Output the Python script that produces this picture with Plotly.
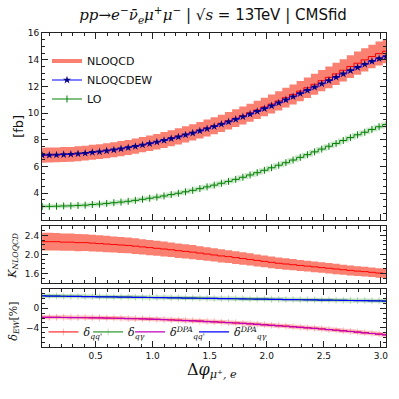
import numpy as np
import plotly.graph_objects as go
from plotly.subplots import make_subplots

# 50 bins in delta phi between mu+ and e, 0 .. pi
bin_edges = np.linspace(0, np.pi, 51)
centers = 0.5 * (bin_edges[1:] + bin_edges[:-1])

# differential cross sections [fb]
nloqcd = [6.85, 6.86, 6.87, 6.90, 6.92, 6.96, 7.00, 7.07, 7.12, 7.19,
          7.26, 7.34, 7.43, 7.53, 7.64, 7.74, 7.86, 7.99, 8.12, 8.26,
          8.41, 8.56, 8.72, 8.89, 9.06, 9.24, 9.43, 9.62, 9.82, 10.03,
          10.24, 10.46, 10.68, 10.91, 11.16, 11.40, 11.65, 11.90, 12.16, 12.43,
          12.68, 12.94, 13.21, 13.49, 13.74, 13.99, 14.24, 14.46, 14.64, 14.78]
# scale uncertainty of NLOQCD [%]
scale_unc = [8.2, 8.2, 8.1, 8.1, 8.0, 8.0, 7.9, 7.9, 7.8, 7.8,
             7.7, 7.7, 7.6, 7.6, 7.5, 7.5, 7.4, 7.4, 7.3, 7.3,
             7.2, 7.2, 7.1, 7.1, 7.0, 7.0, 6.9, 6.9, 6.8, 6.8,
             6.7, 6.7, 6.7, 6.6, 6.6, 6.6, 6.5, 6.5, 6.5, 6.4,
             6.4, 6.4, 6.3, 6.3, 6.3, 6.2, 6.2, 6.2, 6.2, 6.1]
nloqcdew = [6.85, 6.86, 6.87, 6.90, 6.92, 6.96, 7.00, 7.06, 7.11, 7.18,
            7.25, 7.33, 7.42, 7.51, 7.62, 7.72, 7.84, 7.96, 8.09, 8.22,
            8.37, 8.51, 8.67, 8.83, 9.00, 9.17, 9.35, 9.54, 9.73, 9.93,
            10.13, 10.34, 10.55, 10.77, 11.00, 11.23, 11.47, 11.71, 11.95, 12.20,
            12.44, 12.69, 12.94, 13.19, 13.43, 13.66, 13.88, 14.08, 14.24, 14.36]
lo = [3.02, 3.02, 3.03, 3.05, 3.06, 3.09, 3.11, 3.16, 3.19, 3.24,
      3.29, 3.34, 3.40, 3.47, 3.55, 3.63, 3.71, 3.80, 3.90, 4.00,
      4.11, 4.22, 4.35, 4.48, 4.61, 4.75, 4.89, 5.04, 5.20, 5.37,
      5.54, 5.72, 5.91, 6.10, 6.29, 6.49, 6.69, 6.89, 7.10, 7.31,
      7.52, 7.73, 7.95, 8.17, 8.38, 8.57, 8.78, 8.98, 9.15, 9.30]

# K factor NLOQCD / LO
k_nloqcd = [2.27, 2.27, 2.27, 2.26, 2.26, 2.25, 2.25, 2.24, 2.23, 2.22,
            2.21, 2.20, 2.19, 2.175, 2.16, 2.145, 2.13, 2.115, 2.10, 2.08,
            2.065, 2.05, 2.03, 2.01, 1.99, 1.97, 1.955, 1.935, 1.915, 1.895,
            1.875, 1.855, 1.835, 1.815, 1.80, 1.785, 1.77, 1.755, 1.74, 1.725,
            1.71, 1.695, 1.68, 1.665, 1.65, 1.64, 1.625, 1.61, 1.60, 1.59]

# EW corrections [%]
d_qq = [-1.85, -1.85, -1.86, -1.87, -1.88, -1.90, -1.92, -1.94, -1.96, -1.99,
        -2.02, -2.05, -2.09, -2.13, -2.17, -2.22, -2.27, -2.32, -2.38, -2.44,
        -2.50, -2.56, -2.63, -2.70, -2.77, -2.85, -2.93, -3.01, -3.10, -3.19,
        -3.28, -3.38, -3.48, -3.58, -3.68, -3.79, -3.90, -4.02, -4.13, -4.25,
        -4.38, -4.50, -4.63, -4.76, -4.90, -5.04, -5.18, -5.32, -5.47, -5.62]
d_qa = [2.59, 2.57, 2.55, 2.52, 2.50, 2.48, 2.46, 2.44, 2.41, 2.39,
        2.37, 2.35, 2.33, 2.30, 2.28, 2.26, 2.24, 2.22, 2.19, 2.17,
        2.15, 2.13, 2.11, 2.08, 2.06, 2.04, 2.02, 2.00, 1.97, 1.95,
        1.93, 1.91, 1.89, 1.86, 1.84, 1.82, 1.80, 1.78, 1.75, 1.73,
        1.71, 1.69, 1.67, 1.64, 1.62, 1.60, 1.58, 1.55, 1.53, 1.51]
d_qq_dpa = [-1.88, -1.88, -1.89, -1.90, -1.91, -1.93, -1.95, -1.97, -1.99, -2.02,
            -2.05, -2.08, -2.12, -2.16, -2.20, -2.25, -2.30, -2.35, -2.41, -2.47,
            -2.53, -2.59, -2.66, -2.73, -2.80, -2.88, -2.96, -3.04, -3.13, -3.22,
            -3.31, -3.41, -3.51, -3.61, -3.71, -3.82, -3.93, -4.05, -4.16, -4.28,
            -4.41, -4.53, -4.66, -4.79, -4.93, -5.07, -5.21, -5.35, -5.50, -5.65]
d_qa_dpa = [2.56, 2.54, 2.52, 2.50, 2.48, 2.46, 2.44, 2.42, 2.39, 2.37,
            2.35, 2.33, 2.31, 2.28, 2.26, 2.24, 2.22, 2.20, 2.17, 2.15,
            2.13, 2.11, 2.09, 2.06, 2.04, 2.02, 2.00, 1.98, 1.95, 1.93,
            1.91, 1.89, 1.87, 1.84, 1.82, 1.80, 1.78, 1.76, 1.73, 1.71,
            1.69, 1.67, 1.65, 1.62, 1.60, 1.58, 1.56, 1.53, 1.51, 1.49]

nlo = np.array(nloqcd)
unc = np.array(scale_unc) / 100
kf = np.array(k_nloqcd)

salmon = '#fa8072'
serif = 'DejaVu Serif'
sans = 'DejaVu Sans'

fig = make_subplots(rows=3, cols=1, shared_xaxes=True)

# top panel
fig.add_trace(go.Scatter(x=centers, y=nlo * (1 - unc), mode='lines', line_shape='hvh',
                         line=dict(width=0, color=salmon), showlegend=False, hoverinfo='skip'), 1, 1)
fig.add_trace(go.Scatter(x=centers, y=nlo * (1 + unc), mode='lines', line_shape='hvh',
                         line=dict(width=0, color=salmon), fill='tonexty', fillcolor=salmon,
                         showlegend=False), 1, 1)
fig.add_trace(go.Scatter(x=centers, y=nloqcd, mode='lines', line_shape='hvh',
                         line=dict(width=1, color='red'), showlegend=False), 1, 1)
fig.add_trace(go.Scatter(x=[None], y=[None], mode='lines', name='NLOQCD',
                         line=dict(width=4, color=salmon)), 1, 1)
fig.add_trace(go.Scatter(x=centers, y=nloqcdew, mode='lines+markers', line_shape='hvh', name='NLOQCDEW',
                         line=dict(width=1, color='blue'),
                         marker=dict(symbol='star', size=6, color='#000080', line=dict(width=0))), 1, 1)
fig.add_trace(go.Scatter(x=centers, y=lo, mode='lines', line_shape='hvh',
                         line=dict(width=4, color='rgba(0,128,0,0.2)'), showlegend=False), 1, 1)
fig.add_trace(go.Scatter(x=centers, y=lo, mode='lines+markers', line_shape='hvh', name='LO',
                         line=dict(width=1, color='green'),
                         marker=dict(symbol='line-ns', size=5, line=dict(width=1, color='green'))), 1, 1)

# middle panel
fig.add_trace(go.Scatter(x=centers, y=kf * (1 - unc), mode='lines', line_shape='hvh',
                         line=dict(width=0, color=salmon), showlegend=False), 2, 1)
fig.add_trace(go.Scatter(x=centers, y=kf * (1 + unc), mode='lines', line_shape='hvh',
                         line=dict(width=0, color=salmon), fill='tonexty', fillcolor=salmon,
                         showlegend=False), 2, 1)
fig.add_trace(go.Scatter(x=centers, y=k_nloqcd, mode='lines', line_shape='hvh',
                         line=dict(width=1, color='red'), showlegend=False), 2, 1)

# bottom panel, each entry has its own little legend so they sit like the original
for vals, col, halo, name, leg in [(d_qq, 'red', 'rgba(255,0,0,0.25)', '<i>δ</i><sub><i>qq\'</i></sub>', 'legend2'),
                                   (d_qa, 'green', 'rgba(0,128,0,0.25)', '<i>δ</i><sub><i>qγ</i></sub>', 'legend3')]:
    fig.add_trace(go.Scatter(x=centers, y=vals, mode='lines', line_shape='hvh',
                             line=dict(width=4, color=halo), showlegend=False), 3, 1)
    fig.add_trace(go.Scatter(x=centers, y=vals, mode='lines+markers', line_shape='hvh', name=name,
                             line=dict(width=1, color=col), legend=leg,
                             marker=dict(symbol='line-ns', size=5, line=dict(width=1, color=halo))), 3, 1)
fig.add_trace(go.Scatter(x=centers, y=d_qq_dpa, mode='lines', line_shape='hvh',
                         name='<i>δ</i><sup><i>DPA</i></sup><sub><i>qq\'</i></sub>', legend='legend4',
                         line=dict(width=1.2, color='#c000c0')), 3, 1)
fig.add_trace(go.Scatter(x=centers, y=d_qa_dpa, mode='lines', line_shape='hvh',
                         name='<i>δ</i><sup><i>DPA</i></sup><sub><i>qγ</i></sub>', legend='legend5',
                         line=dict(width=1.2, color='blue')), 3, 1)

axis_common = dict(showline=True, linecolor='#222', linewidth=1, mirror='allticks',
                   ticks='inside', ticklen=6, tickcolor='#222', showgrid=False, zeroline=False,
                   tickfont=dict(family=sans, size=9, color='#111'))
for r in (1, 2, 3):
    fig.update_xaxes(range=[0.03, 3.045], tickvals=[0.5, 1.0, 1.5, 2.0, 2.5, 3.0], tickformat='.1f',
                     ticklabeloverflow='allow',
                     minor=dict(dtick=0.1, tick0=0, ticks='inside', ticklen=3, tickcolor='#222'),
                     showticklabels=(r == 3), row=r, col=1, **axis_common)
fig.update_yaxes(range=[2, 16], tickvals=[4, 6, 8, 10, 12, 14, 16],
                 minor=dict(dtick=0.5, ticks='inside', ticklen=3, tickcolor='#222'),
                 domain=[0.4045, 1], row=1, col=1, **axis_common)
fig.update_yaxes(range=[1.4, 2.6], tickvals=[1.6, 2.0, 2.4], tickformat='.1f',
                 minor=dict(dtick=0.1, ticks='inside', ticklen=3, tickcolor='#222'),
                 domain=[0.2038, 0.3854], row=2, col=1, **axis_common)
fig.update_yaxes(range=[-8, 4], tickvals=[-4, 0],
                 minor=dict(dtick=1, ticks='inside', ticklen=3, tickcolor='#222'),
                 domain=[0, 0.1847], row=3, col=1, **axis_common)

small_leg = dict(y=0.048, xanchor='left', yanchor='middle', orientation='h', itemwidth=30,
                 bgcolor='rgba(0,0,0,0)', font=dict(family=serif, size=11, color='#111'))
label = dict(xref='paper', yref='paper', xanchor='center', yanchor='middle', showarrow=False)

fig.update_layout(
    width=399, height=399,
    margin=dict(l=42, r=11, t=33, b=52),
    plot_bgcolor='white', paper_bgcolor='white',
    title=dict(text='<span style="font-family:DejaVu Serif"><i>pp</i>→<i>e</i><sup>−</sup><i>ν̄</i><sub><i>e</i></sub>'
                    '<i>μ</i><sup>+</sup><i>μ</i><sup>−</sup></span> | √<span style="font-family:DejaVu Serif">'
                    '<i>s</i></span> = 13TeV | CMSfid',
               x=0.534, xanchor='center', y=0.962, yanchor='middle', yref='container',
               font=dict(family=sans, size=15, color='#111')),
    legend=dict(x=0.0145, y=0.957, xanchor='left', yanchor='top', bgcolor='rgba(0,0,0,0)',
                traceorder='normal', itemwidth=30,
                font=dict(family=sans, size=11, color='#111'), tracegroupgap=0),
    legend2=dict(x=0.0045, **small_leg),
    legend3=dict(x=0.134, **small_leg),
    legend4=dict(x=0.256, **small_leg),
    legend5=dict(x=0.442, **small_leg),
    annotations=[
        dict(text='[fb]', x=-0.069, y=0.702, textangle=-90,
             font=dict(family=sans, size=13, color='#111'), **label),
        dict(text='<i>K</i><sub><i>NLOQCD</i></sub>', x=-0.085, y=0.29, textangle=-90,
             font=dict(family=serif, size=11, color='#111'), **label),
        dict(text='<i>δ</i><sub><i>EW</i></sub>[%]', x=-0.084, y=0.081, textangle=-90,
             font=dict(family=serif, size=11, color='#111'), **label),
        dict(text='Δ<i>φ</i><sub><i>μ</i>⁺<i>, e</i></sub>', x=0.494, y=-0.076,
             font=dict(family=serif, size=16, color='#111'), **label),
    ],
)

# the page body has a default 8px margin; drop it so the figure sits at the window corner
fig.write_html("out.html", config={'displayModeBar': False},
               post_script="document.body.style.margin='0';")
